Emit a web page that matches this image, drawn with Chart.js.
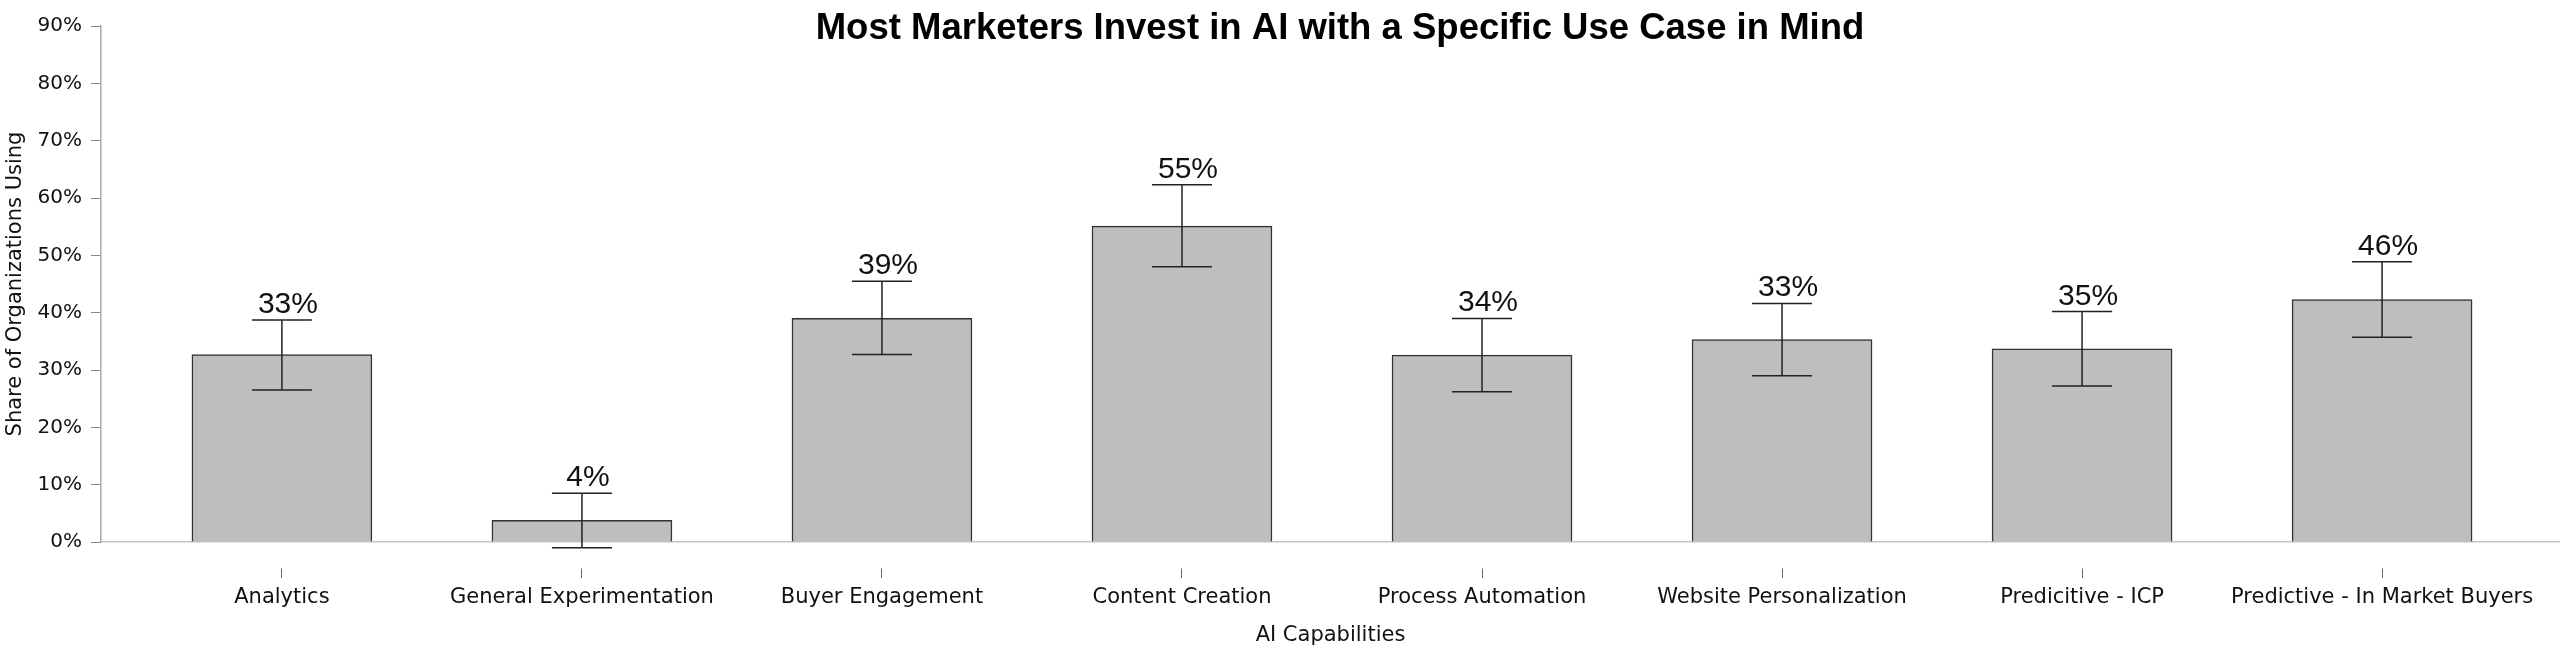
<!DOCTYPE html>
<html>
<head>
<meta charset="utf-8">
<script src="https://cdn.jsdelivr.net/npm/chart.js@4/dist/chart.umd.min.js"></script>
<style>
  html, body { margin: 0; padding: 0; background: #fff; }
  canvas { display: block; }
</style>
</head>
<body>
<canvas id="chart" width="2560" height="654"></canvas>
<script>
const categories = [
  "Analytics",
  "General Experimentation",
  "Buyer Engagement",
  "Content Creation",
  "Process Automation",
  "Website Personalization",
  "Predicitive - ICP",
  "Predictive - In Market Buyers"
];
const shareValues = [32.7, 3.8, 39.0, 55.1, 32.6, 35.3, 33.7, 42.3];
const errorHigh = [38.7, 8.5, 45.5, 62.3, 39.0, 41.6, 40.2, 48.9];
const errorLow = [26.5, -1.0, 32.7, 48.0, 26.2, 29.0, 27.2, 35.7];
const valueLabels = ["33%", "4%", "39%", "55%", "34%", "33%", "35%", "46%"];
const yTicks = [0, 10, 20, 30, 40, 50, 60, 70, 80, 90];

const titleText = "Most Marketers Invest in AI with a Specific Use Case in Mind";

// error bars with caps, drawn through the scales
const errorBarPlugin = {
  id: "errorBars",
  afterDatasetsDraw(chart) {
    const ctx = chart.ctx;
    const xs = chart.scales.x, ys = chart.scales.y;
    ctx.save();
    ctx.strokeStyle = "#222";
    ctx.lineWidth = 1.5;
    categories.forEach((c, i) => {
      const x = xs.getPixelForValue(i);
      const top = ys.getPixelForValue(errorHigh[i]);
      const bot = ys.getPixelForValue(errorLow[i]);
      ctx.beginPath();
      ctx.moveTo(x, top); ctx.lineTo(x, bot);
      ctx.moveTo(x - 30, top); ctx.lineTo(x + 30, top);
      ctx.moveTo(x - 30, bot); ctx.lineTo(x + 30, bot);
      ctx.stroke();
    });
    // value labels above the error bars
    ctx.fillStyle = "#111";
    ctx.font = "30px 'Liberation Sans', Arial, sans-serif";
    ctx.textAlign = "center";
    ctx.textBaseline = "alphabetic";
    categories.forEach((c, i) => {
      const x = xs.getPixelForValue(i);
      const top = ys.getPixelForValue(errorHigh[i]);
      ctx.fillText(valueLabels[i], x + 6, top - 7);
    });
    ctx.restore();
  }
};

const titlePlugin = {
  id: "bigTitle",
  afterDraw(chart) {
    const ctx = chart.ctx;
    ctx.save();
    ctx.fillStyle = "#000";
    ctx.font = "bold 36.5px 'Liberation Sans', Arial, sans-serif";
    ctx.textAlign = "center";
    ctx.textBaseline = "alphabetic";
    ctx.fillText(titleText, 1340, 39);
    ctx.restore();
  }
};

new Chart(document.getElementById("chart"), {
  type: "bar",
  data: {
    datasets: [{
      data: shareValues.map((v, i) => ({ x: i, y: v })),
      backgroundColor: "#bebebe",
      borderColor: "#333",
      borderWidth: 1.5,
      barThickness: 180
    }]
  },
  options: {
    responsive: false,
    animation: false,
    devicePixelRatio: 1,
    layout: { padding: { top: 26, right: 0, bottom: 0, left: 0 } },
    plugins: {
      legend: { display: false },
      tooltip: { enabled: false }
    },
    scales: {
      x: {
        type: "linear",
        offset: false,
        min: -0.603,
        max: 7.593,
        afterBuildTicks: s => { s.ticks = categories.map((c, i) => ({ value: i })); },
        afterFit: s => { s.height = 112; },
        grid: {
          offset: false,
          drawOnChartArea: false,
          tickLength: 36,
          tickBorderDash: [0, 26, 10, 0],
          tickColor: "#666",
          tickWidth: 1
        },
        border: { color: "#c4c4c4", width: 1.5 },
        ticks: {
          autoSkip: false,
          maxRotation: 0,
          padding: 7,
          color: "#111",
          font: { family: "'DejaVu Sans', sans-serif", size: 21 },
          callback: v => categories[v]
        },
        title: {
          display: true,
          text: "AI Capabilities",
          color: "#111",
          font: { family: "'DejaVu Sans', sans-serif", size: 21 },
          padding: { top: 0, bottom: 6 }
        }
      },
      y: {
        min: 0,
        max: 90,
        afterBuildTicks: s => { s.ticks = yTicks.map(v => ({ value: v })); },
        afterFit: s => { s.width = 101; },
        grid: {
          drawOnChartArea: false,
          tickLength: 10,
          tickColor: "#888"
        },
        border: { color: "#a8a8a8", width: 1.5 },
        ticks: {
          padding: 9,
          color: "#111",
          font: { family: "'DejaVu Sans', sans-serif", size: 20 },
          callback: v => v + "%"
        },
        title: {
          display: true,
          text: "Share of Organizations Using",
          color: "#111",
          font: { family: "'DejaVu Sans', sans-serif", size: 21 },
          padding: { top: 3, bottom: 0 }
        }
      }
    }
  },
  plugins: [errorBarPlugin, titlePlugin]
});
</script>
</body>
</html>
